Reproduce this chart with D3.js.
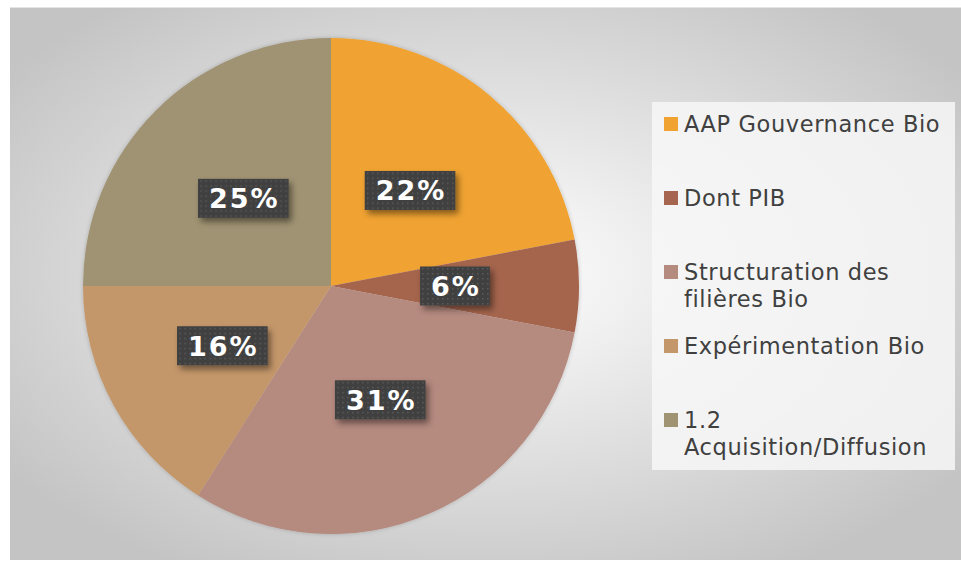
<!DOCTYPE html>
<head>
    <meta charset="utf-8">
    <script src="https://d3js.org/d3.v7.min.js"></script>
    <style>
      body { margin: 0; background: white; }
      text { font-family: "DejaVu Sans", Verdana, sans-serif; }
      .legendtext { font-size: 22.5px; fill: #404040; letter-spacing: 0.6px; }
      .slicelabel { font-size: 27px; font-weight: bold; fill: white; letter-spacing: 2px; }
    </style>
<body>
    <script>
        var categories = ["AAP Gouvernance Bio", "Dont PIB", "Structuration des filières Bio", "Expérimentation Bio", "1.2 Acquisition/Diffusion"]
        var legendLines = [["AAP Gouvernance Bio"], ["Dont PIB"], ["Structuration des", "filières Bio"], ["Expérimentation Bio"], ["1.2", "Acquisition/Diffusion"]]
        var shares = [22, 6, 31, 16, 25]
        var colors = ["#f0a330", "#a5654e", "#b58a7f", "#c4976a", "#a09373"]

        var svg_w = 961, svg_h = 561
        var svg = d3.select("body").append("svg")
          .attr("width", svg_w)
          .attr("height", svg_h)

        var defs = svg.append("defs")
        var bg = defs.append("radialGradient").attr("id", "bggrad")
          .attr("cx", "50%").attr("cy", "48%").attr("r", "62%")
        bg.append("stop").attr("offset", "0%").attr("stop-color", "#ffffff")
        bg.append("stop").attr("offset", "100%").attr("stop-color", "#c4c4c4")

        var dots = defs.append("pattern").attr("id", "dots")
          .attr("width", 5).attr("height", 5).attr("patternUnits", "userSpaceOnUse")
        dots.append("rect").attr("width", 5).attr("height", 5).attr("fill", "#404040")
        dots.append("rect").attr("x", 2).attr("y", 2).attr("width", 1.5).attr("height", 1.5).attr("fill", "#5a5a5a")

        var shadow = defs.append("filter").attr("id", "shadow")
          .attr("x", "-20%").attr("y", "-20%").attr("width", "150%").attr("height", "160%")
        shadow.append("feDropShadow").attr("dx", 3).attr("dy", 4).attr("stdDeviation", 3)
          .attr("flood-color", "#000").attr("flood-opacity", 0.45)

        var pieShadow = defs.append("filter").attr("id", "pieshadow")
          .attr("x", "-10%").attr("y", "-10%").attr("width", "120%").attr("height", "120%")
        pieShadow.append("feDropShadow").attr("dx", 0).attr("dy", 0).attr("stdDeviation", 2)
          .attr("flood-color", "#000").attr("flood-opacity", 0.2)

        // chart area
        svg.append("rect")
          .attr("x", 10).attr("y", 7)
          .attr("width", svg_w - 10).attr("height", 553)
          .attr("fill", "url(#bggrad)")
        svg.append("line")
          .attr("x1", 10).attr("x2", svg_w).attr("y1", 7.5).attr("y2", 7.5)
          .attr("stroke", "#e4e4e4")

        // PIE
        var cx = 331, cy = 286, radius = 248
        var pie = d3.pie().sort(null).value(function(d) { return d })
        var arc = d3.arc().innerRadius(0).outerRadius(radius)
        var arcs = pie(shares)

        var pieG = svg.append("g")
          .attr("transform", "translate(" + cx + "," + cy + ")")
        pieG.append("g").attr("filter", "url(#pieshadow)")
          .selectAll("path")
          .data(arcs)
          .enter()
          .append("path")
          .attr("d", arc)
          .attr("fill", function(d, i) { return colors[i] })

        var labels = pieG.selectAll(".lbl")
          .data(arcs)
          .enter()
          .append("g")
          .classed("lbl", true)
          .attr("transform", function(d) { return "translate(" + arc.centroid(d) + ")" })
        var boxes = labels.append("rect")
          .attr("fill", "url(#dots)")
          .attr("filter", "url(#shadow)")
        var texts = labels.append("text")
          .classed("slicelabel", true)
          .attr("text-anchor", "middle")
          .attr("x", 1)
          .attr("y", 10)
          .text(function(d) { return d.data + "%" })
        texts.each(function(d, i) {
          var tw = this.getComputedTextLength()
          d3.select(boxes.nodes()[i])
            .attr("x", -tw / 2 - 10).attr("y", -19.5)
            .attr("width", tw + 20).attr("height", 39)
        })

        // LEGEND
        var legend = svg.append("g")
        legend.append("rect")
          .attr("x", 652).attr("y", 102)
          .attr("width", 303).attr("height", 368)
          .attr("fill", "#f7f7f7").attr("fill-opacity", 0.85)
        var legendY = d3.scaleLinear().domain([0, 1]).range([117, 191])
        var items = legend.selectAll(".item")
          .data(categories)
          .enter()
          .append("g")
          .classed("item", true)
          .attr("transform", function(d, i) { return "translate(664," + legendY(i) + ")" })
        items.append("rect")
          .attr("width", 14).attr("height", 14)
          .attr("fill", function(d, i) { return colors[i] })
        items.append("text")
          .classed("legendtext", true)
          .attr("x", 20)
          .attr("y", 15)
          .selectAll("tspan")
          .data(function(d, i) { return legendLines[i] })
          .enter()
          .append("tspan")
          .attr("x", 20)
          .attr("dy", function(d, j) { return j == 0 ? 0 : 27 })
          .text(function(d) { return d })
    </script>
</body>
